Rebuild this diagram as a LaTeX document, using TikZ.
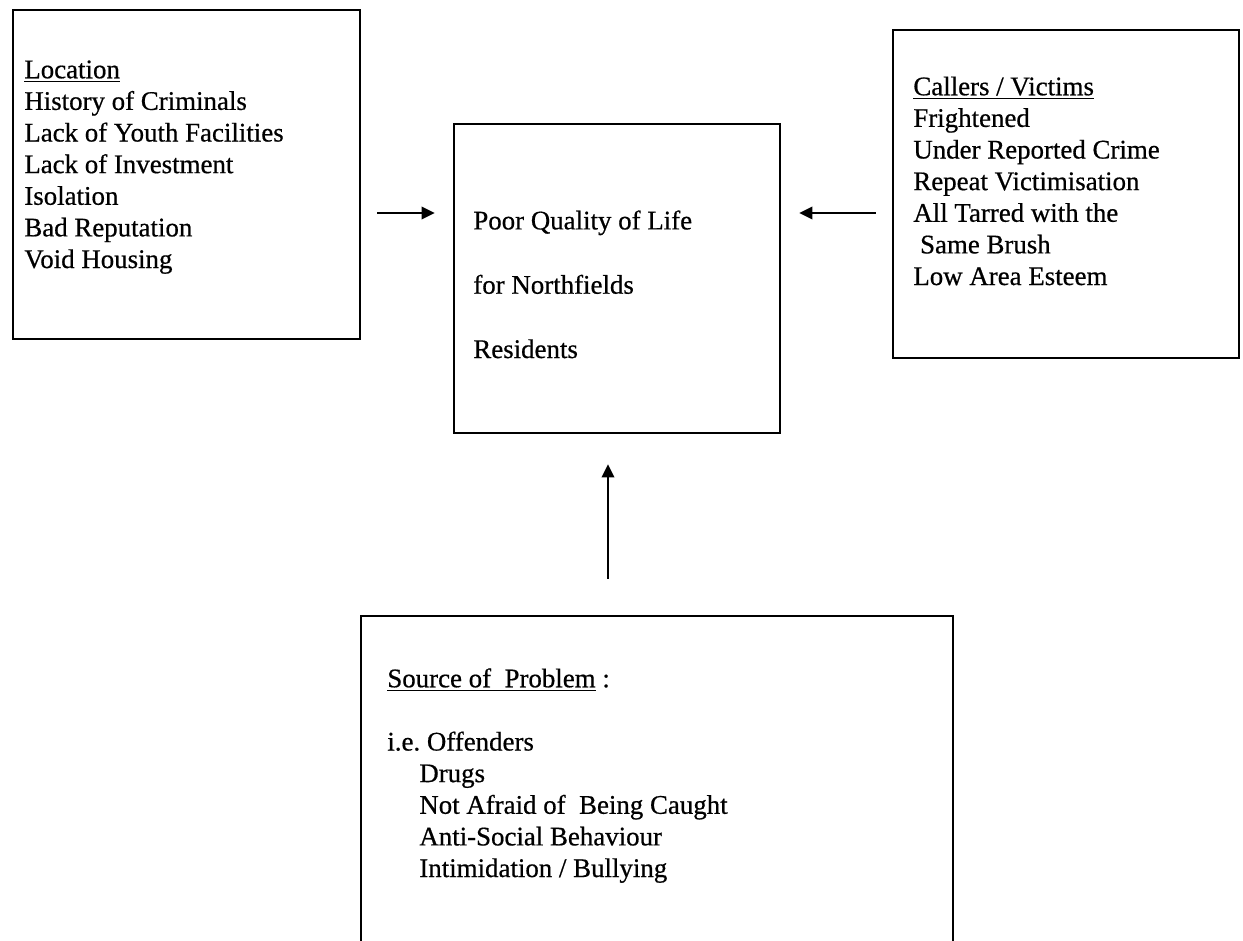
\documentclass[tikz,border=0pt]{standalone}
\usepackage{fontspec}
\setmainfont{Liberation Serif}
\newfontfamily\scanfont{Liberation Serif}[FakeBold=0.6]
\usetikzlibrary{arrows.meta}

\tikzset{
    box/.style={draw, line width=1.5pt, inner sep=0pt},
    list/.style={anchor=base west, align=left, inner sep=0pt,
        font=\scanfont\fontsize{15.3}{18}\selectfont},
    arr/.style={-{Triangle[length=7.5pt,width=7pt]}, line width=1.4pt}
}

\begin{document}
\begin{tikzpicture}[x=0.02cm, y=-0.02cm]

    \useasboundingbox (0,0) rectangle (1243,940);
    \clip (0,0) rectangle (1243,940);

    %% Causes and effects

    % Boxes
    \node[box, minimum width=6.94cm, minimum height=6.58cm] (causes) at (186.5,174.5) {};
    \node[box, minimum width=6.92cm, minimum height=6.56cm] (victims) at (1066,194) {};
    \node[box, minimum width=6.52cm, minimum height=6.18cm] (quality) at (617,278.5) {};
    \node[box, minimum width=11.84cm, minimum height=7.68cm] (source) at (657,808) {};

    % Texts (placed at the baseline of their last line)
    \node[list] (causestext) at (24,268) {\underline{Location}\\
        History of Criminals\\
        Lack of Youth Facilities\\
        Lack of Investment\\
        Isolation\\
        Bad Reputation\\
        Void Housing};
    \node[list] (victimstext) at (913,285) {\underline{Callers / Victims}\\
        Frightened\\
        Under Reported Crime\\
        Repeat Victimisation\\
        All Tarred with the\\
        \hspace*{0.25em}Same Brush\\
        Low Area Esteem};
    \node[list, font=\scanfont\fontsize{15.3}{36.6}\selectfont] (qualitytext) at (473,358) {Poor Quality of Life\\
        for Northfields\\
        Residents};
    \node[list] (sourcetext) at (387,877) {\underline{Source of\ \ Problem} :\\[18pt]
        i.e.\ Offenders\\
        \hspace*{0.64cm}Drugs\\
        \hspace*{0.64cm}Not Afraid of\ \ Being Caught\\
        \hspace*{0.64cm}Anti-Social Behaviour\\
        \hspace*{0.64cm}Intimidation / Bullying};

    % Arrows
    \coordinate (arrowrow) at (0,213);
    \coordinate (arrowcol) at (608,0);
    \draw[arr, shorten <=0.32cm, shorten >=0.36cm] (causes.east |- arrowrow) -- (quality.west |- arrowrow);
    \draw[arr, shorten <=0.32cm, shorten >=0.36cm] (victims.west |- arrowrow) -- (quality.east |- arrowrow);
    \draw[arr, shorten <=0.72cm, shorten >=0.6cm] (source.north -| arrowcol) -- (quality.south -| arrowcol);

\end{tikzpicture}
\end{document}
